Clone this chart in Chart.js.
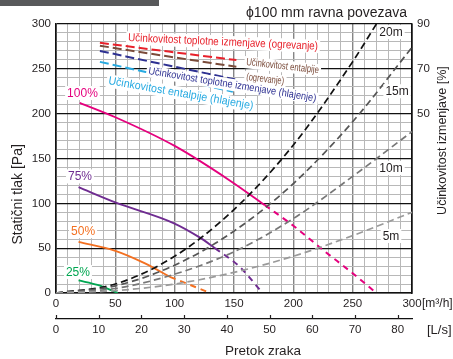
<!DOCTYPE html>
<html>
<head>
<meta charset="utf-8">
<script src="https://cdn.jsdelivr.net/npm/chart.js@4/dist/chart.umd.min.js"></script>
<style>
  html, body { margin: 0; padding: 0; background: #fff; }
  #c { display: block; }
</style>
</head>
<body>
<canvas id="c" width="453" height="359"></canvas>
<script>
// Axis tick labels
const flowLabels = [0, 50, 100, 150, 200, 250, 300];      // m³/h
const litreLabels = [0, 10, 20, 30, 40, 50, 60, 70, 80];  // L/s
const effLabels = [50, 70, 90];                           // %

// Fan curves: [air flow m³/h, static pressure Pa]
const fan100 = [[20, 212], [50, 196], [100, 164], [147, 125], [176, 98]];
const fan100Ext = [[176, 98], [200, 75], [225, 48], [250, 22], [270, 0]];
const fan75 = [[19, 118], [50, 101], [99, 78], [121, 62], [134, 50]];
const fan75Ext = [[134, 50], [155, 29], [174, 0]];
const fan50 = [[19, 57], [50, 47], [75, 33], [96, 18]];
const fan50Ext = [[96, 18], [113, 9], [130, 0]];
const fan25 = [[19, 14], [35, 9], [52, 0]];

// Duct resistance by duct length: [air flow m³/h, pressure Pa]
const duct20 = [[0, 0], [50, 10], [100, 41], [150, 93], [200, 165], [250, 258], [270, 300]];
const duct15 = [[0, 0], [50, 8], [100, 31], [150, 69], [200, 122], [250, 191], [300, 274]];
const duct10 = [[0, 0], [50, 5], [100, 21], [150, 46], [200, 83], [250, 130], [300, 180]];
const duct5 = [[0, 0], [50, 2.6], [100, 10], [150, 23], [200, 41], [250, 64], [300, 90]];

// Exchange efficiency: [air flow m³/h, efficiency %]
const effHeatSensible = [[37, 81.6], [95, 77.7], [152, 73.9]];
const effHeatEnthalpy = [[37, 80.3], [95, 75.5], [152, 70.9]];
const effCoolSensible = [[37, 78.0], [95, 71.5], [151, 65.3]];
const effCoolEnthalpy = [[37, 73.1], [95, 66.3], [149, 59.8]];

const FONT = '"Liberation Sans", Arial, Helvetica, sans-serif';
const INK = '#231f20';
Chart.defaults.font.family = FONT;
Chart.defaults.color = INK;

const pts = a => a.map(([x, y]) => ({ x, y }));
function series(data, color, extra) {
  return Object.assign({
    data: pts(data), borderColor: color, backgroundColor: color,
    borderWidth: 1.8, pointRadius: 0, showLine: true, fill: false,
    cubicInterpolationMode: 'monotone', xAxisID: 'x', yAxisID: 'y'
  }, extra || {});
}
const ductDash = { borderDash: [7, 4], borderWidth: 1.7 };
const fanDash = { borderDash: [6, 5], borderWidth: 2 };
const effDash = { borderDash: [9, 4], borderWidth: 2, yAxisID: 'yEff' };

const C100 = '#e5007e', C75 = '#6f2c91', C50 = '#f37021', C25 = '#00a651';

const datasets = [
  series(duct5, '#9a9a9a', ductDash),
  series(duct10, '#777777', ductDash),
  series(duct15, '#555555', ductDash),
  series(duct20, '#111111', ductDash),
  series(fan100, C100, { borderWidth: 1.9 }),
  series(fan100Ext, C100, fanDash),
  series(fan75, C75, { borderWidth: 1.9 }),
  series(fan75Ext, C75, fanDash),
  series(fan50, C50, { borderWidth: 1.9 }),
  series(fan50Ext, C50, fanDash),
  series(fan25, C25, { borderWidth: 1.9 }),
  series(effCoolEnthalpy, '#27aae1', effDash),
  series(effCoolSensible, '#2e3192', effDash),
  series(effHeatEnthalpy, '#7a4b3a', effDash),
  series(effHeatSensible, '#e8202a', effDash)
];

// Text placed on the plot, anchored in data units (flow m³/h, pressure Pa)
const curveTags = [
  { text: '100%', f: 22.3, p: 223, color: C100 },
  { text: '75%', f: 20.2, p: 130, color: C75 },
  { text: '50%', f: 22.8, p: 69, color: C50 },
  { text: '25%', f: 18.5, p: 23.4, color: C25 },
  { text: '20m', f: 282.3, p: 291, color: INK },
  { text: '15m', f: 287.4, p: 225, color: INK },
  { text: '10m', f: 282.3, p: 139.4, color: INK },
  { text: '5m', f: 282.3, p: 63.6, color: INK }
];
const slantTags = [
  { text: 'Učinkovitost toplotne izmenjave (ogrevanje)', f: 60.7, p: 281, angle: 2.6, size: 11.5, width: 190, color: '#e8202a' },
  { text: 'Učinkovitost entalpije', f: 160.1, p: 254.3, angle: 6.5, size: 10.5, width: 73, color: '#7a4b3a' },
  { text: '(ogrevanje)', f: 160.1, p: 237.5, angle: 6.5, size: 10.5, width: 38, color: '#7a4b3a' },
  { text: 'Učinkovitost toplotne izmenjave (hlajenje)', f: 77.5, p: 244.2, angle: 9.3, size: 10.5, width: 170, color: '#2e3192' },
  { text: 'Učinkovitost entalpije (hlajenje)', f: 43.8, p: 233.1, angle: 9.9, size: 11.5, width: 147, color: '#27aae1' }
];

const overlay = {
  id: 'overlay',
  beforeDraw(chart) {
    const ctx = chart.ctx;
    ctx.save();
    ctx.fillStyle = '#58595b';
    ctx.fillRect(0, 0, 159, 6);
    ctx.restore();
  },
  afterDatasetsDraw(chart) {
    const ctx = chart.ctx, sx = chart.scales.x, sy = chart.scales.y;
    ctx.save();
    ctx.textBaseline = 'middle';
    ctx.textAlign = 'center';
    for (const t of curveTags) {
      const x = sx.getPixelForValue(t.f), y = sy.getPixelForValue(t.p);
      ctx.font = '12px ' + FONT;
      const w = ctx.measureText(t.text).width;
      ctx.fillStyle = '#fff';
      ctx.fillRect(x - w / 2 - 2, y - 7, w + 4, 14);
      ctx.fillStyle = t.color;
      ctx.fillText(t.text, x, y + 0.5);
    }
    ctx.textAlign = 'left';
    ctx.textBaseline = 'alphabetic';
    for (const t of slantTags) {
      const x = sx.getPixelForValue(t.f), y = sy.getPixelForValue(t.p);
      ctx.save();
      ctx.translate(x, y);
      ctx.rotate(t.angle * Math.PI / 180);
      ctx.font = t.size + 'px ' + FONT;
      const w = ctx.measureText(t.text).width;
      const k = t.width / w;
      ctx.scale(k, 1);
      ctx.fillStyle = '#fff';
      ctx.fillRect(-2 / k, -t.size * 0.85, w + 4 / k, t.size * 1.15);
      ctx.fillStyle = t.color;
      ctx.fillText(t.text, 0, 0);
      ctx.restore();
    }
    ctx.restore();
  },
  afterDraw(chart) {
    const ctx = chart.ctx, sx = chart.scales.x, s2 = chart.scales.x2, sy = chart.scales.y;
    ctx.save();
    ctx.fillStyle = INK;
    ctx.strokeStyle = INK;
    // small ticks on the L/s axis
    ctx.lineWidth = 1.2;
    for (const v of litreLabels) {
      const x = Math.round(s2.getPixelForValue(v)) + 0.5;
      ctx.beginPath();
      ctx.moveTo(x, s2.top);
      ctx.lineTo(x, s2.top - 4);
      ctx.stroke();
    }
    // unit labels
    ctx.textBaseline = 'middle';
    ctx.textAlign = 'left';
    ctx.font = '12px ' + FONT;
    ctx.fillText('[m³/h]', sx.getPixelForValue(300) + 10, 304);
    ctx.font = '13px ' + FONT;
    ctx.fillText('[L/s]', 427, 330);
    // titles
    ctx.textAlign = 'center';
    ctx.font = '13.5px ' + FONT;
    ctx.fillText('Pretok zraka', 263, 351);
    ctx.font = '14px ' + FONT;
    ctx.textAlign = 'left';
    ctx.fillText('ϕ100 mm ravna povezava', 246, 13);
    ctx.textAlign = 'center';
    ctx.save();
    ctx.translate(18, sy.getPixelForValue(110));
    ctx.rotate(-Math.PI / 2);
    ctx.font = '14px ' + FONT;
    ctx.fillText('Statični tlak [Pa]', 0, 0);
    ctx.restore();
    ctx.save();
    ctx.translate(443, sy.getPixelForValue(170));
    ctx.rotate(-Math.PI / 2);
    ctx.font = '12.5px ' + FONT;
    ctx.fillText('Učinkovitost izmenjave [%]', 0, 0);
    ctx.restore();
    ctx.restore();
  }
};

const tickFont = { family: FONT, size: 11.5 };
const stepTicks = (lo, hi, step) => scale => {
  scale.ticks = [];
  for (let v = lo; v <= hi; v += step) scale.ticks.push({ value: v });
};
const isMajor = c => c.tick && c.tick.value % 50 === 0;
const isEdge = c => c.tick && (c.tick.value === 0 || c.tick.value === 300);

new Chart(document.getElementById('c'), {
  type: 'scatter',
  data: { datasets },
  options: {
    responsive: false,
    animation: false,
    devicePixelRatio: 1,
    layout: { padding: { top: 24, left: 0, right: 0, bottom: 0 } },
    plugins: { legend: { display: false }, tooltip: { enabled: false } },
    scales: {
      x: {
        type: 'linear', position: 'bottom', min: 0, max: 300, weight: 0,
        afterBuildTicks: stepTicks(0, 300, 10),
        ticks: {
          autoSkip: false, maxRotation: 0, padding: 4, font: tickFont, color: INK,
          callback: v => flowLabels.includes(v) ? String(v) : ''
        },
        grid: {
          drawTicks: false,
          color: c => isEdge(c) ? '#111' : (isMajor(c) ? '#858585' : '#b8b8b8'),
          lineWidth: c => isEdge(c) ? 1.5 : (isMajor(c) ? 1.4 : 1)
        },
        border: { color: '#111', width: 1.5 },
        afterFit: s => { s.height = 26; }
      },
      x2: {
        type: 'linear', position: 'bottom', min: 0, max: 300 / 3.6, weight: 1,
        afterBuildTicks: s => { s.ticks = litreLabels.map(v => ({ value: v })); },
        ticks: { autoSkip: false, maxRotation: 0, padding: 4, font: tickFont, color: INK },
        grid: { display: false, drawTicks: false },
        border: { display: true, color: '#111', width: 1.2 },
        afterFit: s => { s.height = 40; }
      },
      y: {
        type: 'linear', position: 'left', min: 0, max: 300,
        afterBuildTicks: stepTicks(0, 300, 10),
        ticks: {
          autoSkip: false, padding: 5, font: tickFont, color: INK,
          callback: v => v % 50 === 0 ? String(v) : ''
        },
        grid: {
          drawTicks: false,
          color: c => isMajor(c) ? '#111' : '#b8b8b8',
          lineWidth: c => isMajor(c) ? 1.3 : 1
        },
        border: { color: '#111', width: 1.5 },
        afterFit: s => { s.width = 56; }
      },
      yEff: {
        type: 'linear', position: 'right', min: -30, max: 90,
        afterBuildTicks: s => { s.ticks = effLabels.map(v => ({ value: v })); },
        ticks: { autoSkip: false, padding: 5, font: tickFont, color: INK },
        grid: { drawOnChartArea: false, drawTicks: false },
        border: { color: '#111', width: 1.5 },
        afterFit: s => { s.width = 41; }
      }
    }
  },
  plugins: [overlay]
});
</script>
</body>
</html>
